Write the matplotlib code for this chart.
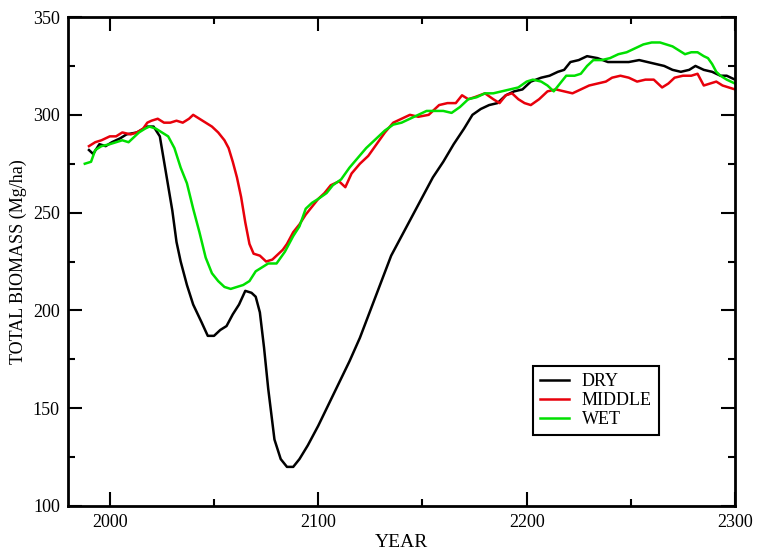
import matplotlib
matplotlib.use("Agg")
import matplotlib.pyplot as plt
from matplotlib.ticker import MultipleLocator

# values (year, total biomass Mg/ha)
dry_year = [1990, 1992, 1995, 1998, 2001, 2005, 2008, 2013, 2018, 2021, 2024, 2027,
            2030, 2032, 2034, 2037, 2040, 2044, 2047, 2050, 2053, 2056, 2059, 2062,
            2065, 2068, 2070, 2072, 2074, 2076, 2079, 2082, 2085, 2088, 2091, 2095,
            2100, 2105, 2110, 2115, 2120, 2125, 2130, 2135, 2140, 2145, 2150, 2155,
            2160, 2165, 2170, 2174, 2178, 2182, 2186, 2190, 2194, 2198, 2202, 2207,
            2211, 2215, 2218, 2221, 2225, 2229, 2234, 2239, 2244, 2249, 2254, 2258,
            2262, 2266, 2270, 2274, 2278, 2281, 2285, 2289, 2293, 2296, 2300]
dry_val = [282, 280, 285, 284, 286, 288, 290, 291, 294, 294, 289, 270,
           251, 235, 225, 213, 203, 194, 187, 187, 190, 192, 198, 203,
           210, 209, 207, 199, 181, 160, 134, 124, 120, 120, 124, 131,
           141, 152, 163, 174, 186, 200, 214, 228, 238, 248, 258, 268,
           276, 285, 293, 300, 303, 305, 306, 310, 312, 313, 317, 319,
           320, 322, 323, 327, 328, 330, 329, 327, 327, 327, 328, 327,
           326, 325, 323, 322, 323, 325, 323, 322, 320, 320, 318]

middle_year = [1990, 1993, 1996, 2000, 2003, 2006, 2010, 2013, 2016, 2018, 2020, 2023,
               2026, 2029, 2032, 2035, 2038, 2040, 2043, 2046, 2049, 2052, 2055, 2057,
               2059, 2061, 2063, 2065, 2067, 2069, 2072, 2075, 2078, 2080, 2083, 2085,
               2088, 2091, 2094, 2097, 2100, 2103, 2106, 2110, 2113, 2116, 2120, 2124,
               2128, 2132, 2136, 2140, 2144, 2148, 2153, 2158, 2162, 2166, 2169, 2172,
               2175, 2180, 2184, 2187, 2190, 2193, 2196, 2199, 2202, 2206, 2210, 2214,
               2218, 2222, 2226, 2230, 2234, 2238, 2241, 2245, 2249, 2253, 2257, 2261,
               2265, 2268, 2271, 2275, 2279, 2282, 2285, 2288, 2291, 2294, 2297, 2300]
middle_val = [284, 286, 287, 289, 289, 291, 290, 291, 293, 296, 297, 298,
              296, 296, 297, 296, 298, 300, 298, 296, 294, 291, 287, 283,
              276, 268, 258, 245, 234, 229, 228, 225, 226, 228, 231, 234,
              240, 244, 249, 253, 257, 260, 264, 266, 263, 270, 275, 279,
              285, 291, 296, 298, 300, 299, 300, 305, 306, 306, 310, 308,
              309, 311, 308, 306, 310, 311, 308, 306, 305, 308, 312, 313,
              312, 311, 313, 315, 316, 317, 319, 320, 319, 317, 318, 318,
              314, 316, 319, 320, 320, 321, 315, 316, 317, 315, 314, 313]

wet_year = [1988, 1991, 1993, 1996, 2000, 2003, 2006, 2009, 2012, 2014, 2017, 2019,
            2022, 2025, 2028, 2031, 2034, 2037, 2040, 2043, 2046, 2049, 2052, 2055,
            2058, 2061, 2064, 2067, 2070, 2073, 2076, 2080, 2084, 2088, 2091, 2094,
            2097, 2100, 2104, 2107, 2111, 2115, 2119, 2123, 2128, 2132, 2136, 2140,
            2144, 2148, 2152, 2156, 2160, 2164, 2168, 2172, 2176, 2180, 2184, 2188,
            2192, 2196, 2200, 2203, 2207, 2210, 2213, 2216, 2219, 2223, 2226, 2229,
            2232, 2236, 2240, 2244, 2248, 2252, 2256, 2260, 2264, 2267, 2270, 2273,
            2276, 2279, 2282, 2285, 2287, 2289, 2291, 2293, 2296, 2300]
wet_val = [275, 276, 282, 284, 285, 286, 287, 286, 289, 291, 293, 294,
           293, 291, 289, 283, 273, 265, 252, 240, 227, 219, 215, 212,
           211, 212, 213, 215, 220, 222, 224, 224, 230, 238, 243, 252,
           255, 257, 260, 264, 267, 273, 278, 283, 288, 292, 295, 296,
           298, 300, 302, 302, 302, 301, 304, 308, 309, 311, 311, 312,
           313, 314, 317, 318, 317, 315, 312, 316, 320, 320, 321, 325,
           328, 328, 329, 331, 332, 334, 336, 337, 337, 336, 335, 333,
           331, 332, 332, 330, 329, 326, 322, 320, 318, 316]

plt.rcParams['font.family'] = ['Liberation Serif', 'DejaVu Serif']

fig = plt.figure(figsize=(7.57, 5.5), dpi=100)
ax = fig.add_axes([0.09, 0.08, 0.881, 0.889])

ax.plot(dry_year, dry_val, color='black', lw=1.8, label='DRY')
ax.plot(middle_year, middle_val, color='#e8000b', lw=1.8, label='MIDDLE')
ax.plot(wet_year, wet_val, color='#00e000', lw=1.8, label='WET')

ax.set_xlim(1980, 2300)
ax.set_ylim(100, 350)
ax.xaxis.set_major_locator(MultipleLocator(100))
ax.xaxis.set_minor_locator(MultipleLocator(50))
ax.yaxis.set_major_locator(MultipleLocator(50))
ax.yaxis.set_minor_locator(MultipleLocator(25))
ax.tick_params(which='both', direction='in', top=True, right=True,
               width=1.5, labelsize=13)
ax.tick_params(which='major', length=10, pad=6)
ax.tick_params(which='minor', length=5)
for s in ax.spines.values():
    s.set_linewidth(2)

ax.set_xlabel('YEAR', fontsize=14, labelpad=2)
ax.set_ylabel('TOTAL BIOMASS (Mg/ha)', fontsize=13, labelpad=4)

leg = ax.legend(loc='lower left', bbox_to_anchor=(0.697, 0.145), fontsize=13,
                fancybox=False, framealpha=1, edgecolor='black',
                handlelength=1.6, handletextpad=0.7, borderpad=0.4,
                labelspacing=0.1, borderaxespad=0)
leg.get_frame().set_linewidth(1.5)

fig.savefig('out.png', dpi=100)
